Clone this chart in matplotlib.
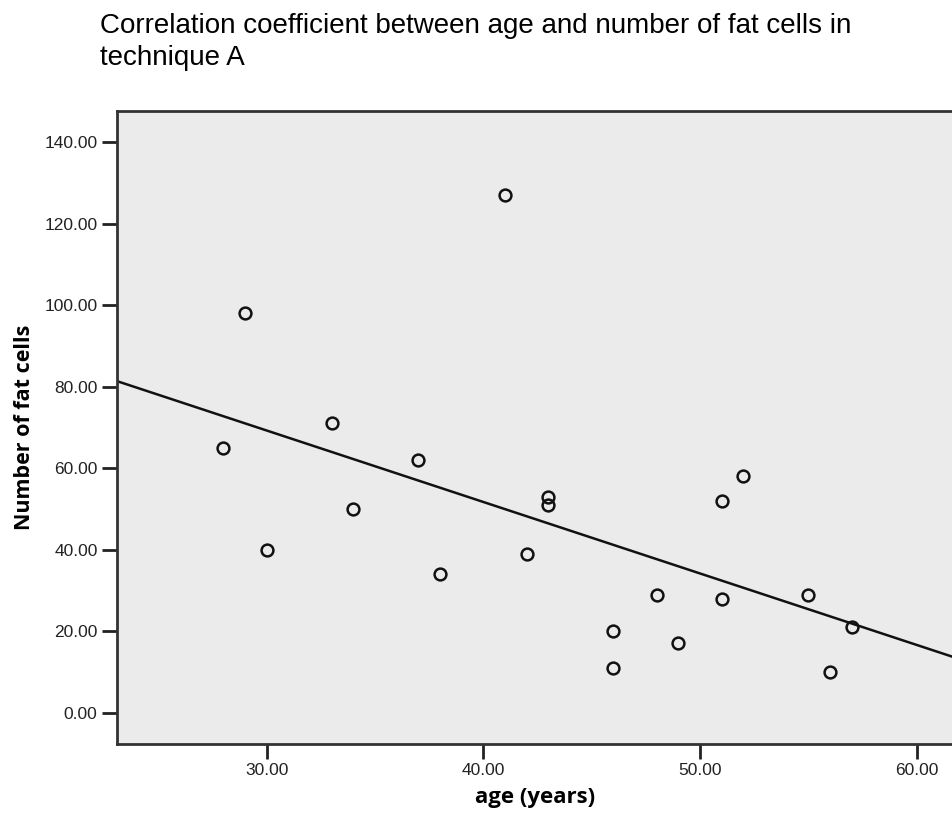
import numpy as np
import matplotlib
matplotlib.use("Agg")
import matplotlib.pyplot as plt

# ages (years) and number of fat cells, technique A
age = [28, 29, 30, 33, 34, 37, 38, 41, 42, 43, 43, 46, 46, 48, 49, 51, 51, 52, 55, 56, 57]
fat_cells = [65, 98, 40, 71, 50, 62, 34, 127, 39, 53, 51, 20, 11, 29, 17, 52, 28, 58, 29, 10, 21]

x_ticks = [30, 40, 50, 60]
y_ticks = [0, 20, 40, 60, 80, 100, 120, 140]

fig = plt.figure(figsize=(9.53, 8.14), dpi=100)
ax = fig.add_axes([117/953, 1 - 744/814, 1 - 117/953, (744 - 111)/814])
ax.set_facecolor('#ebebeb')

xlim = (23.09, 61.68)
ax.set_xlim(*xlim)
ax.set_ylim(-7.7, 147.7)

# fit line
slope, intercept = np.polyfit(age, fat_cells, 1)
xs = np.array(xlim)
ax.plot(xs, slope*xs + intercept, color='#111111', linewidth=1.8, zorder=2)

ax.plot(age, fat_cells, linestyle='none', marker='o', markersize=8.5,
        markerfacecolor='none', markeredgecolor='#111111', markeredgewidth=1.8, zorder=3)

ax.set_xticks(x_ticks)
ax.set_xticklabels([f"{v:.2f}" for v in x_ticks])
ax.set_yticks(y_ticks)
ax.set_yticklabels([f"{v:.2f}" for v in y_ticks])
ax.tick_params(axis='both', direction='out', length=11, width=2, color='#222222',
               labelsize=12.5, labelcolor='#222222', pad=3)
for lab in ax.get_xticklabels() + ax.get_yticklabels():
    lab.set_family('Liberation Sans')

for side in ['left', 'bottom', 'top']:
    ax.spines[side].set_color('#333333')
    ax.spines[side].set_linewidth(2)
ax.spines['right'].set_visible(False)

ax.set_xlabel('age (years)', fontsize=16, fontweight='bold', family='Open Sans', labelpad=6)
ax.set_ylabel('Number of fat cells', fontsize=15.5, fontweight='bold', family='Open Sans', labelpad=7)

fig.text(100/953, 1 - 65/814,
         'Correlation coefficient between age and number of fat cells in\ntechnique A',
         fontsize=20, family='Liberation Sans', ha='left', va='baseline',
         linespacing=1.3)

fig.savefig('out.png', dpi=100)
